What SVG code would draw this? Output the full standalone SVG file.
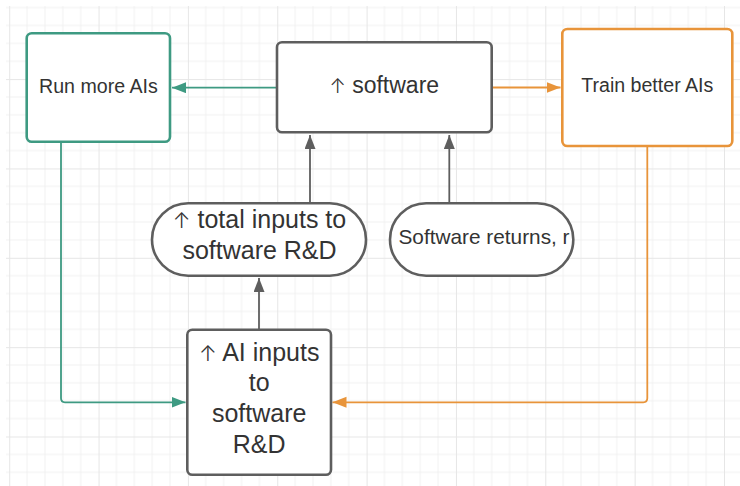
<svg xmlns="http://www.w3.org/2000/svg" width="740" height="486" viewBox="0 0 740 486">
  <defs>
    <!-- background grid: minor lines every 17.87px, heavier line every fifth -->
    <pattern id="grid" patternUnits="userSpaceOnUse" x="9.2" y="-10.25" width="89.35" height="89.35">
      <path d="M17.87 0V89.35M35.74 0V89.35M53.61 0V89.35M71.48 0V89.35M0 17.87H89.35M0 35.74H89.35M0 53.61H89.35M0 71.48H89.35" stroke="#f1f1f1" stroke-width="1" fill="none"/>
      <path d="M0.5 0V89.35M0 0.5H89.35" stroke="#e6e6e6" stroke-width="1" fill="none"/>
    </pattern>
    <marker id="ah-gray" markerUnits="userSpaceOnUse" markerWidth="15" markerHeight="12" refX="14" refY="5.5" orient="auto">
      <path d="M0 0L14 5.5L0 11z" fill="#5e5e5e"/>
    </marker>
    <marker id="ah-teal" markerUnits="userSpaceOnUse" markerWidth="15" markerHeight="12" refX="14" refY="5.5" orient="auto">
      <path d="M0 0L14 5.5L0 11z" fill="#3e9a82"/>
    </marker>
    <marker id="ah-orange" markerUnits="userSpaceOnUse" markerWidth="15" markerHeight="12" refX="14" refY="5.5" orient="auto">
      <path d="M0 0L14 5.5L0 11z" fill="#e8943a"/>
    </marker>
  </defs>
  <style>
    .box { fill: #ffffff; stroke-width: 2.6; }
    .gray { stroke: #5e5e5e; }
    .teal { stroke: #3e9a82; }
    .orange { stroke: #e8943a; }
    .link { fill: none; stroke-width: 1.8; }
    text { font-family: "Liberation Sans", Arial, sans-serif; fill: #333333; text-anchor: middle; }
    /* up-arrow glyph taken from a font that carries it as plain text */
    .up { font-family: Inter, "DejaVu Sans", sans-serif; font-weight: 300; font-size: 0.85em; }
    .sm { font-size: 19.6px; }
    .md { font-size: 23px; }
    .lg { font-size: 25px; }
  </style>

  <rect width="740" height="486" fill="#ffffff"/>
  <rect x="6" y="6" width="734" height="480" fill="url(#grid)"/>

  <g id="connectors">
    <path class="link teal" d="M276 87.7H172" marker-end="url(#ah-teal)"/>
    <path class="link orange" d="M492 87.5H560.5" marker-end="url(#ah-orange)"/>
    <path class="link gray" d="M310 203V135" marker-end="url(#ah-gray)"/>
    <path class="link gray" d="M449.3 203V135" marker-end="url(#ah-gray)"/>
    <path class="link gray" d="M259 329.5V278" marker-end="url(#ah-gray)"/>
    <path class="link teal" d="M61 142V398.3Q61 402.3 65 402.3H185.5" marker-end="url(#ah-teal)"/>
    <path class="link orange" d="M647.3 146V398.3Q647.3 402.3 643.3 402.3H332.5" marker-end="url(#ah-orange)"/>
  </g>

  <g id="run-more-ais">
    <rect class="box teal" x="26.7" y="33.3" width="143.3" height="108.4" rx="5"/>
    <text class="sm" x="98.4" y="93.3">Run more AIs</text>
  </g>

  <g id="software">
    <rect class="box gray" x="277" y="42.3" width="214.7" height="90" rx="5"/>
    <text class="md" x="384.3" y="93.3"><tspan class="up">↑</tspan> software</text>
  </g>

  <g id="train-better-ais">
    <rect class="box orange" x="562.3" y="29" width="170" height="117" rx="5"/>
    <text class="sm" x="647.3" y="92">Train better AIs</text>
  </g>

  <g id="total-inputs">
    <rect class="box gray" x="152" y="203.3" width="214" height="72.4" rx="36.2"/>
    <text class="lg" x="259.5" y="228.3"><tspan class="up">↑</tspan> total inputs to</text>
    <text class="lg" x="259.5" y="259.3">software R&amp;D</text>
  </g>

  <g id="software-returns">
    <rect class="box gray" x="390" y="203.3" width="183.3" height="72.4" rx="36.2"/>
    <text x="484" y="244.3" style="font-size:20.8px">Software returns, r</text>
  </g>

  <g id="ai-inputs">
    <rect class="box gray" x="187.3" y="329.7" width="143.7" height="145" rx="5"/>
    <text class="lg" x="259.2" y="360.7"><tspan class="up">↑</tspan> AI inputs</text>
    <text class="lg" x="259.2" y="390.7">to</text>
    <text class="lg" x="259.2" y="421.7">software</text>
    <text class="lg" x="259.2" y="452.7">R&amp;D</text>
  </g>
</svg>
